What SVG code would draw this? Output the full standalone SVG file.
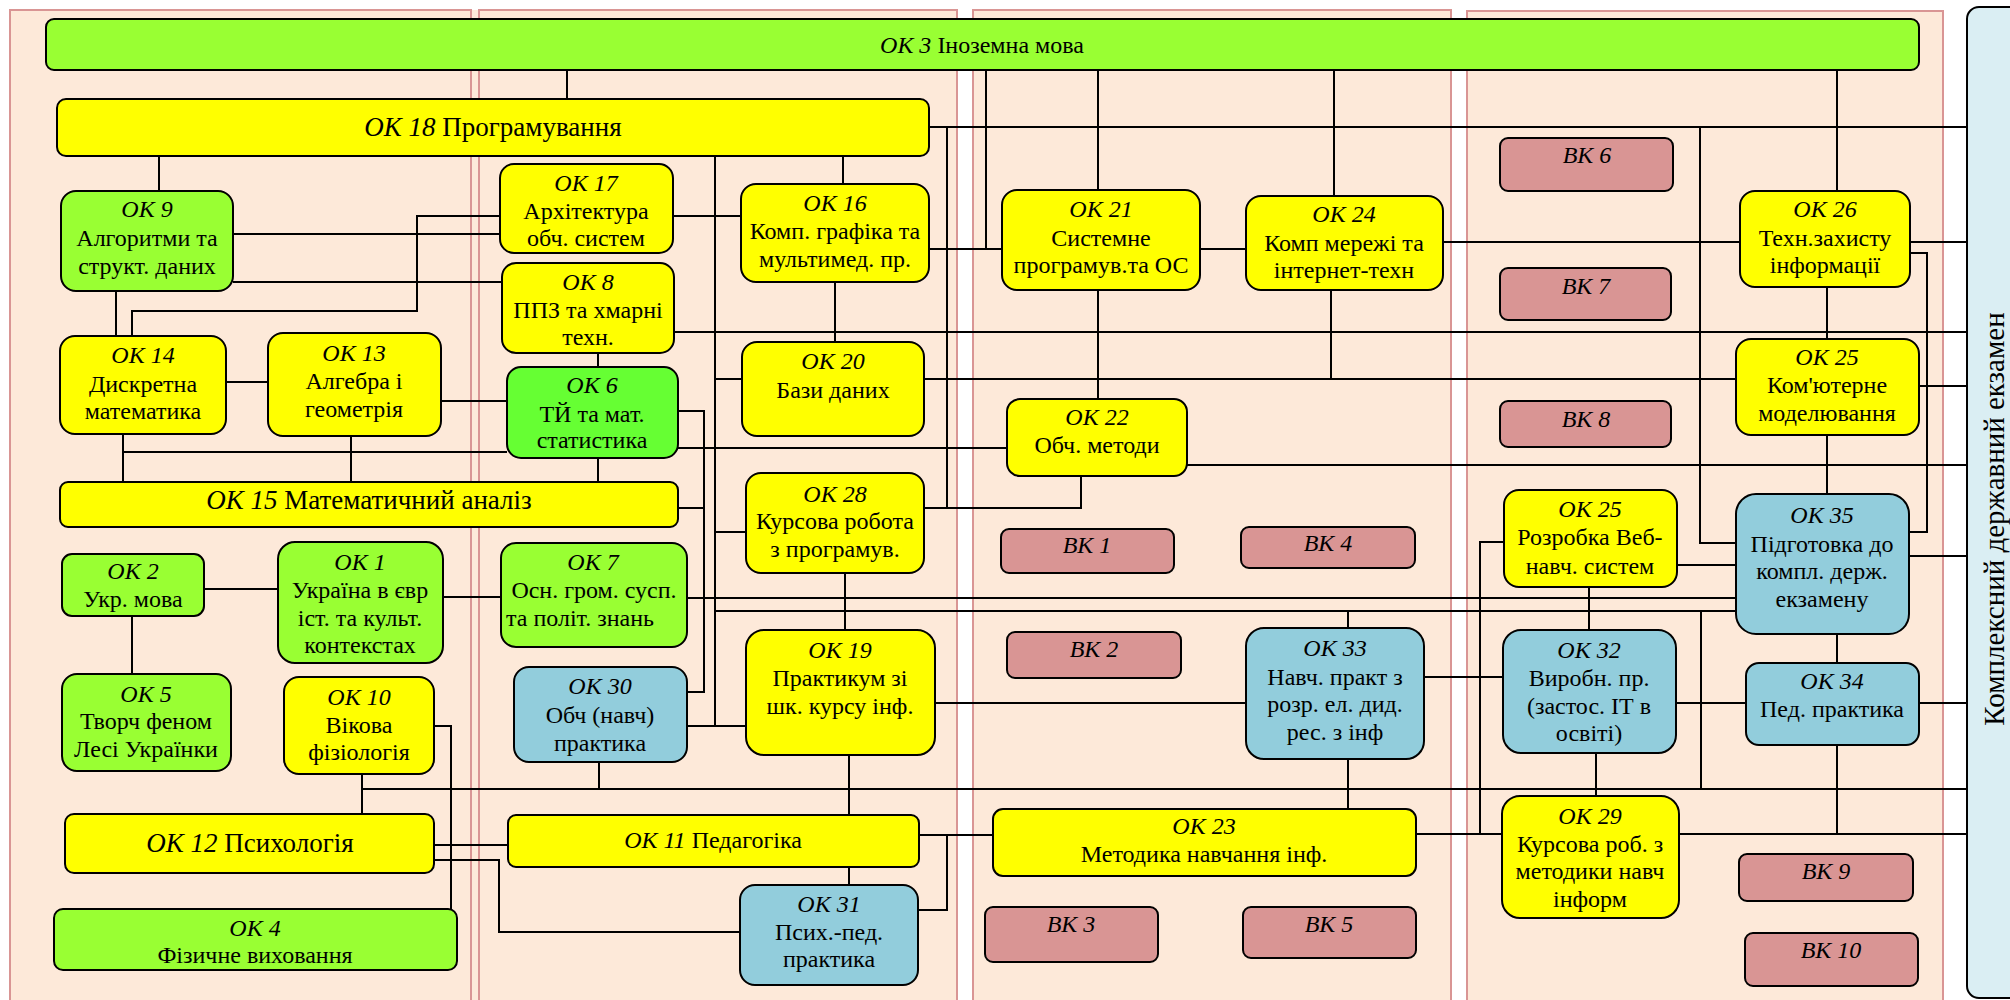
<svg xmlns="http://www.w3.org/2000/svg" width="2010" height="1000" viewBox="0 0 2010 1000">
<style>
.pf{fill:#FDE9D9;stroke:none}
.pb{fill:#FDE9D9;stroke:#D99594;stroke-width:2}
rect.n{stroke:#000;stroke-width:2}
.g{fill:#99FF33}.g2{fill:#66FF33}.y{fill:#FFFF00}.b{fill:#92CDDC}.v{fill:#D99594}
text{font-family:"Liberation Serif","Times New Roman",serif;font-size:24px;fill:#000;text-anchor:middle}
.i{font-style:italic}
.big{font-size:27px}
#conn path{fill:none;stroke:#000;stroke-width:2}
</style>
<rect x="0" y="0" width="2010" height="1000" fill="#fff"/>
<g id="panels">
<rect class="pf" x="10" y="10" width="469" height="1000"/>
<rect class="pb" x="10" y="10" width="461" height="1000"/>
<rect class="pb" x="479" y="10" width="478" height="1000"/>
<rect class="pb" x="973" y="10" width="478" height="1000"/>
<rect class="pb" x="1467" y="11" width="476" height="1000"/>
</g>
<g id="exam">
<rect x="1967" y="7" width="80" height="991" rx="12" fill="#DAEEF3" stroke="#000" stroke-width="2"/>
<text transform="translate(2004,519) rotate(-90)" style="font-size:29px">Комплексний державний екзамен</text>
</g>
<g id="conn">
<path d="M567,70V99"/>
<path d="M159,156V191"/>
<path d="M233,234H500"/>
<path d="M233,282H502"/>
<path d="M500,216H417V311H132V336"/>
<path d="M116,291V336"/>
<path d="M226,382H268"/>
<path d="M441,401H507"/>
<path d="M123,434V482"/>
<path d="M123,452H507"/>
<path d="M351,436V482"/>
<path d="M204,589H278"/>
<path d="M443,597H501"/>
<path d="M132,616V674"/>
<path d="M434,726H451V909"/>
<path d="M362,774V814"/>
<path d="M362,789H1967"/>
<path d="M434,845H508"/>
<path d="M434,860H499V932H740"/>
<path d="M715,156V725"/>
<path d="M673,216H741"/>
<path d="M843,156V184"/>
<path d="M835,282V342"/>
<path d="M929,127H1967"/>
<path d="M947,127V508"/>
<path d="M986,70V249"/>
<path d="M929,249H1002"/>
<path d="M674,332H1967"/>
<path d="M1098,70V190"/>
<path d="M1098,290V399"/>
<path d="M1200,249H1246"/>
<path d="M1334,70V196"/>
<path d="M1443,242H1740"/>
<path d="M1331,290V379"/>
<path d="M924,379H1736"/>
<path d="M715,379H742"/>
<path d="M1837,70V191"/>
<path d="M1910,242H1967"/>
<path d="M1907,253H1927V532H1909"/>
<path d="M1700,127V543H1736"/>
<path d="M1827,287V339"/>
<path d="M1919,386H1967"/>
<path d="M1187,465H1967"/>
<path d="M1827,435V494"/>
<path d="M1677,565H1736"/>
<path d="M1909,556H1967"/>
<path d="M1416,834H1480V542H1504"/>
<path d="M1480,834H1502"/>
<path d="M1589,587V630"/>
<path d="M687,598H1736"/>
<path d="M715,611H1736"/>
<path d="M1701,611V789"/>
<path d="M598,353V367"/>
<path d="M598,458V482"/>
<path d="M678,411H704V692H687"/>
<path d="M678,508H704"/>
<path d="M678,448H1007"/>
<path d="M715,532H746"/>
<path d="M924,508H1081V476"/>
<path d="M845,573V630"/>
<path d="M1348,611V628"/>
<path d="M687,726H746"/>
<path d="M599,762V789"/>
<path d="M935,703H1246"/>
<path d="M849,755V815"/>
<path d="M849,867V885"/>
<path d="M919,835H993"/>
<path d="M918,910H947V835"/>
<path d="M1348,759V809"/>
<path d="M1424,677H1505"/>
<path d="M1676,703H1746"/>
<path d="M1837,634V663"/>
<path d="M1919,703H1967"/>
<path d="M1837,745V834"/>
<path d="M1596,753V796"/>
<path d="M1679,834H1967"/>
</g>
<g id="ok3"><rect class="n g" x="46" y="19" width="1873" height="51" rx="8"/><text x="982" y="53"><tspan class="i">ОК 3</tspan> Іноземна мова</text></g>
<g id="ok18"><rect class="n y" x="57" y="99" width="872" height="57" rx="9"/><text class="big" x="493" y="136"><tspan class="i">ОК 18</tspan> Програмування</text></g>
<g id="ok9"><rect class="n g" x="61" y="191" width="172" height="100" rx="15"/><text><tspan class="i" x="147" y="217">ОК 9</tspan><tspan x="147" y="246">Алгоритми та</tspan><tspan x="147" y="274">структ. даних</tspan></text></g>
<g id="ok17"><rect class="n y" x="500" y="164" width="173" height="89" rx="14"/><text><tspan class="i" x="586" y="191">ОК 17</tspan><tspan x="586" y="219">Архітектура</tspan><tspan x="586" y="246">обч. систем</tspan></text></g>
<g id="ok16"><rect class="n y" x="741" y="184" width="188" height="98" rx="15"/><text><tspan class="i" x="835" y="211">ОК 16</tspan><tspan x="835" y="239">Комп. графіка та</tspan><tspan x="835" y="267">мультимед. пр.</tspan></text></g>
<g id="ok8"><rect class="n y" x="502" y="263" width="172" height="90" rx="14"/><text><tspan class="i" x="588" y="290">ОК 8</tspan><tspan x="588" y="318">ППЗ та хмарні</tspan><tspan x="588" y="345">техн.</tspan></text></g>
<g id="ok21"><rect class="n y" x="1002" y="190" width="198" height="100" rx="15"/><text><tspan class="i" x="1101" y="217">ОК 21</tspan><tspan x="1101" y="246">Системне</tspan><tspan x="1101" y="273">програмув.та ОС</tspan></text></g>
<g id="ok24"><rect class="n y" x="1246" y="196" width="197" height="94" rx="15"/><text><tspan class="i" x="1344" y="222">ОК 24</tspan><tspan x="1344" y="251">Комп мережі та</tspan><tspan x="1344" y="278">інтернет-техн</tspan></text></g>
<g id="vk6"><rect class="n v" x="1500" y="138" width="173" height="53" rx="8"/><text class="i" x="1587" y="163">ВК 6</text></g>
<g id="ok26"><rect class="n y" x="1740" y="191" width="170" height="96" rx="15"/><text><tspan class="i" x="1825" y="217">ОК 26</tspan><tspan x="1825" y="246">Техн.захисту</tspan><tspan x="1825" y="273">інформації</tspan></text></g>
<g id="vk7"><rect class="n v" x="1500" y="268" width="171" height="52" rx="8"/><text class="i" x="1586" y="294">ВК 7</text></g>
<g id="ok14"><rect class="n y" x="60" y="336" width="166" height="98" rx="15"/><text><tspan class="i" x="143" y="363">ОК 14</tspan><tspan x="143" y="392">Дискретна</tspan><tspan x="143" y="419">математика</tspan></text></g>
<g id="ok13"><rect class="n y" x="268" y="333" width="173" height="103" rx="15"/><text><tspan class="i" x="354" y="361">ОК 13</tspan><tspan x="354" y="389">Алгебра і</tspan><tspan x="354" y="417">геометрія</tspan></text></g>
<g id="ok6"><rect class="n g2" x="507" y="367" width="171" height="91" rx="14"/><text><tspan class="i" x="592" y="393">ОК 6</tspan><tspan x="592" y="422">ТЙ та мат.</tspan><tspan x="592" y="448">статистика</tspan></text></g>
<g id="ok20"><rect class="n y" x="742" y="342" width="182" height="94" rx="15"/><text><tspan class="i" x="833" y="369">ОК 20</tspan><tspan x="833" y="398">Бази даних</tspan></text></g>
<g id="ok22"><rect class="n y" x="1007" y="399" width="180" height="77" rx="13"/><text><tspan class="i" x="1097" y="425">ОК 22</tspan><tspan x="1097" y="453">Обч. методи</tspan></text></g>
<g id="ok25m"><rect class="n y" x="1736" y="339" width="183" height="96" rx="15"/><text><tspan class="i" x="1827" y="365">ОК 25</tspan><tspan x="1827" y="393">Ком'ютерне</tspan><tspan x="1827" y="421">моделювання</tspan></text></g>
<g id="vk8"><rect class="n v" x="1500" y="401" width="171" height="46" rx="8"/><text class="i" x="1586" y="427">ВК 8</text></g>
<g id="ok15"><rect class="n y" x="60" y="482" width="618" height="45" rx="8"/><text class="big" x="369" y="509"><tspan class="i">ОК 15</tspan> Математичний аналіз</text></g>
<g id="ok28"><rect class="n y" x="746" y="473" width="178" height="100" rx="15"/><text><tspan class="i" x="835" y="502">ОК 28</tspan><tspan x="835" y="529">Курсова робота</tspan><tspan x="835" y="557">з програмув.</tspan></text></g>
<g id="vk1"><rect class="n v" x="1001" y="529" width="173" height="44" rx="8"/><text class="i" x="1087" y="553">ВК 1</text></g>
<g id="vk4"><rect class="n v" x="1241" y="527" width="174" height="41" rx="8"/><text class="i" x="1328" y="551">ВК 4</text></g>
<g id="ok25w"><rect class="n y" x="1504" y="490" width="173" height="97" rx="15"/><text><tspan class="i" x="1590" y="517">ОК 25</tspan><tspan x="1590" y="545">Розробка Веб-</tspan><tspan x="1590" y="574">навч. систем</tspan></text></g>
<g id="ok35"><rect class="n b" x="1736" y="494" width="173" height="140" rx="20"/><text><tspan class="i" x="1822" y="523">ОК 35</tspan><tspan x="1822" y="552">Підготовка до</tspan><tspan x="1822" y="579">компл. держ.</tspan><tspan x="1822" y="607">екзамену</tspan></text></g>
<g id="ok2"><rect class="n g" x="62" y="554" width="142" height="62" rx="10"/><text><tspan class="i" x="133" y="579">ОК 2</tspan><tspan x="133" y="607">Укр. мова</tspan></text></g>
<g id="ok1"><rect class="n g" x="278" y="542" width="165" height="121" rx="17"/><text><tspan class="i" x="360" y="570">ОК 1</tspan><tspan x="360" y="598">Україна в євр</tspan><tspan x="360" y="626">іст. та культ.</tspan><tspan x="360" y="653">контекстах</tspan></text></g>
<g id="ok7"><rect class="n g" x="501" y="543" width="186" height="104" rx="15"/><text><tspan class="i" x="593" y="570">ОК 7</tspan><tspan x="594" y="598">Осн. гром. сусп.</tspan><tspan x="506" y="626" style="text-anchor:start">та політ. знань</tspan></text></g>
<g id="vk2"><rect class="n v" x="1007" y="632" width="174" height="46" rx="8"/><text class="i" x="1094" y="657">ВК 2</text></g>
<g id="ok33"><rect class="n b" x="1246" y="628" width="178" height="131" rx="18"/><text><tspan class="i" x="1335" y="656">ОК 33</tspan><tspan x="1335" y="685">Навч. практ з</tspan><tspan x="1335" y="712">розр. ел. дид.</tspan><tspan x="1335" y="740">рес. з інф</tspan></text></g>
<g id="ok32"><rect class="n b" x="1503" y="630" width="173" height="123" rx="18"/><text><tspan class="i" x="1589" y="658">ОК 32</tspan><tspan x="1589" y="686">Виробн. пр.</tspan><tspan x="1589" y="714">(застос. ІТ в</tspan><tspan x="1589" y="741">освіті)</tspan></text></g>
<g id="ok34"><rect class="n b" x="1746" y="663" width="173" height="82" rx="13"/><text><tspan class="i" x="1832" y="689">ОК 34</tspan><tspan x="1832" y="717">Пед. практика</tspan></text></g>
<g id="ok30"><rect class="n b" x="514" y="667" width="173" height="95" rx="15"/><text><tspan class="i" x="600" y="694">ОК 30</tspan><tspan x="600" y="723">Обч (навч)</tspan><tspan x="600" y="751">практика</tspan></text></g>
<g id="ok19"><rect class="n y" x="746" y="630" width="189" height="125" rx="18"/><text><tspan class="i" x="840" y="658">ОК 19</tspan><tspan x="840" y="686">Практикум зі</tspan><tspan x="840" y="714">шк. курсу інф.</tspan></text></g>
<g id="ok5"><rect class="n g" x="62" y="674" width="169" height="97" rx="15"/><text><tspan class="i" x="146" y="702">ОК 5</tspan><tspan x="146" y="729">Творч феном</tspan><tspan x="146" y="757">Лесі Українки</tspan></text></g>
<g id="ok10"><rect class="n y" x="284" y="677" width="150" height="97" rx="15"/><text><tspan class="i" x="359" y="705">ОК 10</tspan><tspan x="359" y="733">Вікова</tspan><tspan x="359" y="760">фізіологія</tspan></text></g>
<g id="ok23"><rect class="n y" x="993" y="809" width="423" height="67" rx="10"/><text><tspan class="i" x="1204" y="834">ОК 23</tspan><tspan x="1204" y="862">Методика навчання інф.</tspan></text></g>
<g id="ok29"><rect class="n y" x="1502" y="796" width="177" height="122" rx="18"/><text><tspan class="i" x="1590" y="824">ОК 29</tspan><tspan x="1590" y="852">Курсова роб. з</tspan><tspan x="1590" y="879">методики навч</tspan><tspan x="1590" y="907">інформ</tspan></text></g>
<g id="ok12"><rect class="n y" x="65" y="814" width="369" height="59" rx="9"/><text class="big" x="250" y="852"><tspan class="i">ОК 12</tspan> Психологія</text></g>
<g id="ok11"><rect class="n y" x="508" y="815" width="411" height="52" rx="8"/><text x="713" y="848"><tspan class="i">ОК 11</tspan> Педагогіка</text></g>
<g id="vk9"><rect class="n v" x="1739" y="854" width="174" height="47" rx="8"/><text class="i" x="1826" y="879">ВК 9</text></g>
<g id="ok31"><rect class="n b" x="740" y="885" width="178" height="100" rx="15"/><text><tspan class="i" x="829" y="912">ОК 31</tspan><tspan x="829" y="940">Псих.-пед.</tspan><tspan x="829" y="967">практика</tspan></text></g>
<g id="ok4"><rect class="n g" x="54" y="909" width="403" height="61" rx="9"/><text><tspan class="i" x="255" y="936">ОК 4</tspan><tspan x="255" y="963">Фізичне виховання</tspan></text></g>
<g id="vk3"><rect class="n v" x="985" y="907" width="173" height="55" rx="8"/><text class="i" x="1071" y="932">ВК 3</text></g>
<g id="vk5"><rect class="n v" x="1243" y="907" width="173" height="51" rx="8"/><text class="i" x="1329" y="932">ВК 5</text></g>
<g id="vk10"><rect class="n v" x="1745" y="933" width="173" height="53" rx="8"/><text class="i" x="1831" y="958">ВК 10</text></g>
</svg>
